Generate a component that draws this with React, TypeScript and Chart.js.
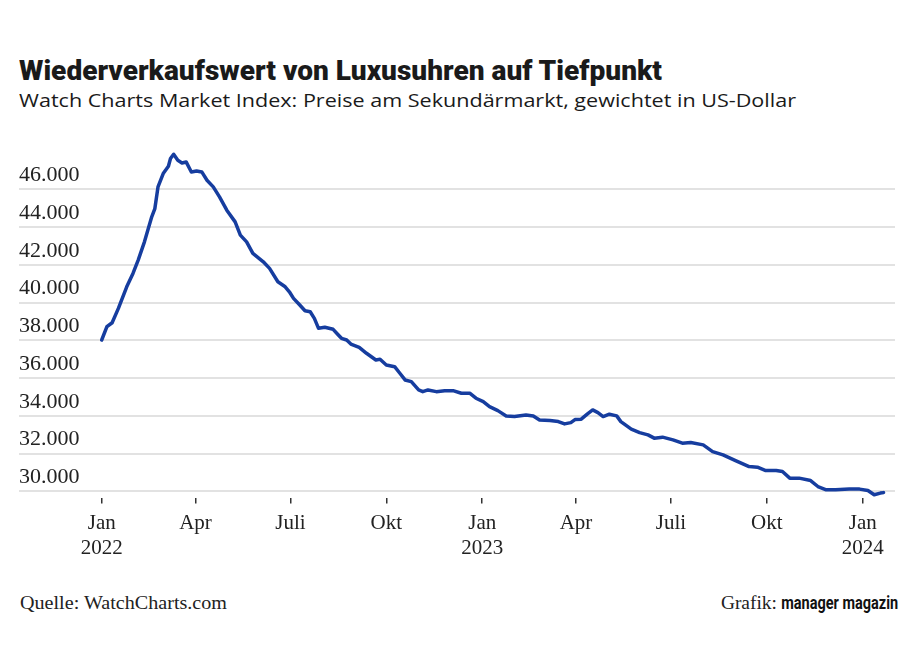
import React, { useEffect, useLayoutEffect, useRef } from "react";
import { Chart, registerables } from "chart.js";

Chart.register(...registerables);

// Days since 1 Jan 2022
const dayOffsets = [
  0, 5, 10, 16, 24, 30, 35, 41, 48, 51, 54, 59, 64, 66, 69, 73, 77, 81, 86, 91,
  96, 101, 107, 113, 120, 128, 133, 139, 145, 155, 161, 169, 176, 180, 184, 190,
  195, 200, 204, 208, 214, 222, 227, 230, 235, 239, 247, 254, 263, 267, 273, 281,
  286, 291, 297, 304, 308, 313, 321, 329, 337, 345, 353, 359, 366, 372, 380, 388,
  396, 407, 414, 420, 430, 438, 444, 450, 454, 460, 466, 471, 476, 481, 487, 494,
  498, 508, 516, 524, 530, 538, 548, 557, 565, 577, 586, 596, 608, 621, 629, 637,
  647, 653, 660, 669, 680, 687, 695, 704, 717, 727, 735, 741, 747, 750,
];

// Watch Charts Market Index (USD)
const indexValues = [
  38016, 38720, 38930, 39690, 40836, 41545, 42250, 43217, 44540, 44980, 46127,
  46836, 47222, 47630, 47857, 47540, 47397, 47450, 46920, 46974, 46920, 46481,
  46127, 45598, 44894, 44275, 43571, 43217, 42603, 42159, 41810, 41100, 40836,
  40572, 40220, 39868, 39566, 39513, 39164, 38635, 38688, 38582, 38280, 38105,
  38016, 37804, 37630, 37312, 36958, 36995, 36693, 36603, 36254, 35900, 35810,
  35370, 35280, 35370, 35280, 35333, 35333, 35196, 35196, 34931, 34751, 34487,
  34275, 33995, 33958, 34048, 33995, 33783, 33746, 33693, 33571, 33640, 33800,
  33820, 34100, 34312, 34170, 33958, 34085, 33995, 33693, 33291, 33111, 32989,
  32815, 32868, 32725, 32550, 32582, 32460, 32106, 31931, 31630, 31312, 31280,
  31100, 31100, 31048, 30698, 30698, 30571, 30254, 30079, 30079, 30116, 30116,
  30042, 29815, 29905, 29930,
];

const xTickDays = [0, 90, 181, 273, 365, 455, 546, 638, 730];
const xTickLabels = [
  ["Jan", "2022"],
  ["Apr"],
  ["Juli"],
  ["Okt"],
  ["Jan", "2023"],
  ["Apr"],
  ["Juli"],
  ["Okt"],
  ["Jan", "2024"],
];
const yTickValues = [30000, 32000, 34000, 36000, 38000, 40000, 42000, 44000, 46000];

const formatDE = (v: number) =>
  `${Math.floor(v / 1000)}.${String(Math.round(v % 1000)).padStart(3, "0")}`;

function FitText(props: {
  width: number;
  style: React.CSSProperties;
  align?: "left" | "right";
  children: React.ReactNode;
}) {
  const ref = useRef<HTMLDivElement>(null);
  useLayoutEffect(() => {
    const fit = () => {
      const el = ref.current;
      if (!el) return;
      el.style.transform = "none";
      const w = el.getBoundingClientRect().width;
      if (w > 0) el.style.transform = `scaleX(${props.width / w})`;
    };
    fit();
    if ((document as any).fonts && (document as any).fonts.ready) {
      (document as any).fonts.ready.then(fit);
    }
  });
  return (
    <div
      ref={ref}
      style={{
        position: "absolute",
        whiteSpace: "nowrap",
        lineHeight: 1,
        transformOrigin: props.align === "right" ? "right top" : "left top",
        ...props.style,
      }}
    >
      {props.children}
    </div>
  );
}

export default function App() {
  const canvasRef = useRef<HTMLCanvasElement>(null);

  useEffect(() => {
    const canvas = canvasRef.current;
    if (!canvas) return;
    const chart = new Chart(canvas, {
      type: "line",
      data: {
        datasets: [
          {
            data: dayOffsets.map((d, i) => ({ x: d, y: indexValues[i] })),
            borderColor: "#163d9f",
            borderWidth: 3.5,
            pointRadius: 0,
            tension: 0,
            fill: false,
            borderJoinStyle: "round",
            borderCapStyle: "round",
          },
        ],
      },
      options: {
        animation: false,
        responsive: false,
        maintainAspectRatio: false,
        layout: { padding: { left: 19, right: 28, top: 11.55, bottom: 0 } },
        plugins: {
          legend: { display: false },
          tooltip: { enabled: false },
          title: { display: false },
        },
        scales: {
          x: {
            type: "linear",
            min: -79.33,
            max: 760.97,
            afterBuildTicks: (s: any) => {
              s.ticks = xTickDays.map((v) => ({ value: v }));
            },
            afterFit: (s: any) => {
              s.height = 62.5;
              s.paddingLeft = 0;
              s.paddingRight = 0;
            },
            ticks: {
              autoSkip: false,
              maxRotation: 0,
              minRotation: 0,
              padding: 7,
              color: "#222",
              font: { family: "'Liberation Serif', serif", size: 21, lineHeight: 1.2 },
              callback: (v: any) => {
                const i = xTickDays.indexOf(Number(v));
                return i >= 0 ? xTickLabels[i] : "";
              },
            },
            grid: {
              drawOnChartArea: false,
              drawTicks: true,
              tickLength: 6,
              color: "#333",
              lineWidth: 1.5,
            },
            border: { display: false },
          },
          y: {
            type: "linear",
            min: 29672,
            max: 48000,
            afterBuildTicks: (s: any) => {
              s.ticks = yTickValues.map((v) => ({ value: v }));
            },
            afterFit: (s: any) => {
              s.paddingTop = 0;
              s.paddingBottom = 0;
            },
            ticks: {
              mirror: true,
              padding: 0,
              labelOffset: -14,
              color: "#222",
              font: { family: "'Liberation Serif', serif", size: 22 },
              callback: (v: any) => formatDE(Number(v)),
            },
            grid: { color: "#e2e2e2", lineWidth: 2, drawTicks: false },
            border: { display: false },
          },
        },
      },
    } as any);
    return () => chart.destroy();
  }, []);

  return (
    <div
      style={{
        position: "absolute",
        left: 0,
        top: 0,
        width: 923,
        height: 661,
        background: "#fff",
        color: "#1a1a1a",
        overflow: "hidden",
      }}
    >
      <FitText
        width={643}
        style={{
          left: 19,
          top: 57.4,
          fontFamily: "Roboto, 'Noto Sans', sans-serif",
          fontWeight: 900,
          fontSize: 28,
          color: "#1a1a1a",
        }}
      >
        Wiederverkaufswert von Luxusuhren auf Tiefpunkt
      </FitText>
      <FitText
        width={777}
        style={{
          left: 19,
          top: 90.6,
          fontFamily: "'Open Sans', sans-serif",
          fontWeight: 400,
          fontSize: 19,
          color: "#1a1a1a",
        }}
      >
        Watch Charts Market Index: Preise am Sekundärmarkt, gewichtet in US-Dollar
      </FitText>
      <canvas
        ref={canvasRef}
        width={923}
        height={420}
        style={{ position: "absolute", left: 0, top: 140, width: 923, height: 420 }}
      />
      <FitText
        width={207}
        style={{
          left: 20,
          top: 592.6,
          fontFamily: "'Liberation Serif', serif",
          fontSize: 19,
          color: "#222",
        }}
      >
        Quelle: WatchCharts.com
      </FitText>
      <FitText
        width={56}
        align="right"
        style={{
          right: 923 - 777,
          top: 592.6,
          fontFamily: "'Liberation Serif', serif",
          fontSize: 19,
          color: "#222",
        }}
      >
        Grafik:
      </FitText>
      <FitText
        width={117}
        align="right"
        style={{
          right: 25,
          top: 593.5,
          fontFamily: "Roboto, sans-serif",
          fontWeight: 700,
          fontSize: 18,
          color: "#111",
        }}
      >
        manager magazin
      </FitText>
    </div>
  );
}
